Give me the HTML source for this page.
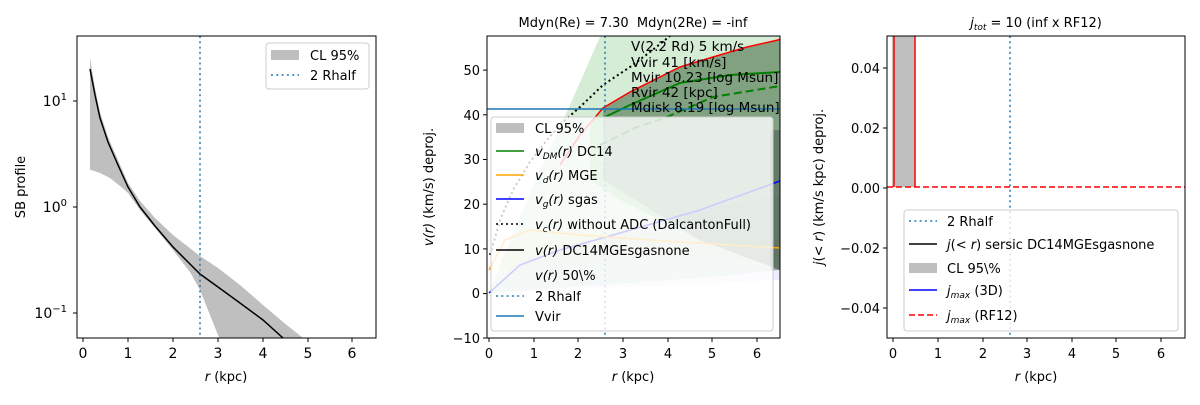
<!DOCTYPE html>
<html><head><meta charset="utf-8"><style>
body{margin:0;background:#fff;}
svg{font-family:"DejaVu Sans","Liberation Sans",sans-serif;}
</style></head><body>
<svg width="1200" height="400" viewBox="0 0 1200 400" xmlns="http://www.w3.org/2000/svg">
<rect width="1200" height="400" fill="#fff"/>
<defs><clipPath id="c1"><rect x="77" y="36" width="299" height="302"/></clipPath>
<clipPath id="c2"><rect x="487" y="36" width="293" height="302"/></clipPath>
<clipPath id="c3"><rect x="887" y="36" width="298" height="302"/></clipPath></defs>
<!-- PANEL 1 -->
<g clip-path="url(#c1)">
<path d="M90,58 L95,88 L100,112 L108,137 L118,160 L128,183 L140,201 L155,218 L173,235 L200,256 L218,268 L240,285 L263,305 L283,322 L303,338 L310,345 L222,345 L210,315 L200,290 L190,272 L173,250 L155,228 L140,210 L128,193 L120,186 L110,178 L100,173 L91,170 L90,170 Z" fill="#bfbfbf"/>
<path d="M90,69 L95,95 L100,118 L108,142 L118,165 L128,187 L140,207 L155,226 L173,247 L190,264 L200,274 L218,287 L240,303 L263,320 L283,338 L290,343" fill="none" stroke="#000" stroke-width="1.5"/>
</g>
<line x1="200" y1="36" x2="200" y2="338" stroke="#1f77b4" stroke-width="1.5" stroke-dasharray="2,3.3"/>
<rect x="77" y="36" width="299" height="302" fill="none" stroke="#000" stroke-width="1"/>
<g stroke="#000" stroke-width="1">
<line x1="83" y1="338" x2="83" y2="342"/><line x1="128" y1="338" x2="128" y2="342"/><line x1="173" y1="338" x2="173" y2="342"/><line x1="218" y1="338" x2="218" y2="342"/><line x1="263" y1="338" x2="263" y2="342"/><line x1="308" y1="338" x2="308" y2="342"/><line x1="352" y1="338" x2="352" y2="342"/>
<line x1="73" y1="101" x2="77" y2="101"/><line x1="73" y1="207" x2="77" y2="207"/><line x1="73" y1="313" x2="77" y2="313"/>
</g>
<g font-size="14" text-anchor="middle" fill="#000">
<text x="83" y="358">0</text><text x="128" y="358">1</text><text x="173" y="358">2</text><text x="218" y="358">3</text><text x="263" y="358">4</text><text x="308" y="358">5</text><text x="352" y="358">6</text>
<text x="226" y="381" font-size="13"><tspan font-style="italic">r</tspan> (kpc)</text>
</g>
<g font-size="14" text-anchor="end">
<text x="67" y="106">10<tspan font-size="10" dy="-6">1</tspan></text>
<text x="67" y="212">10<tspan font-size="10" dy="-6">0</tspan></text>
<text x="67" y="318">10<tspan font-size="10" dy="-6">−1</tspan></text>
</g>
<text transform="translate(25,187) rotate(-90)" font-size="13" text-anchor="middle">SB profile</text>
<rect x="266" y="43" width="103" height="46" rx="3" fill="#fff" fill-opacity="0.8" stroke="#ccc"/>
<rect x="271" y="50" width="28" height="10" fill="#bfbfbf"/>
<text x="310" y="60" font-size="13">CL 95%</text>
<line x1="271" y1="75" x2="299" y2="75" stroke="#1f77b4" stroke-width="1.5" stroke-dasharray="2,3.3"/>
<text x="310" y="80" font-size="13">2 Rhalf</text>

<!-- PANEL 2 -->
<text x="633" y="27" font-size="13" text-anchor="middle" xml:space="preserve">Mdyn(Re) = 7.30  Mdyn(2Re) = -inf</text>
<g clip-path="url(#c2)">
<path d="M489,293 L510,240 L540,170 L570,105 L603,30 L780,30 L780,270 L700,278 L600,285 L489,293 Z" fill="#2ca02c" fill-opacity="0.2"/>
<path d="M489,293 L520,260 L560,248 L620,233 L700,210 L780,195 L780,280 L700,284 L600,288 L489,293 Z" fill="#0000ff" fill-opacity="0.07"/>
<path d="M489,270 L520,235 L580,230 L650,232 L780,235 L780,262 L700,260 L600,262 L520,270 Z" fill="#ffa500" fill-opacity="0.08"/>
<path d="M590,125 L603,108 L630,92 L680,67 L713,57 L747,47 L780,40 L780,270 L700,240 L620,200 L590,180 Z" fill="#2ca02c" fill-opacity="0.3"/>
<path d="M603,108 L630,92 L680,67 L713,57 L747,47 L780,40 L780,270 L700,240 L603,180 Z" fill="#444" fill-opacity="0.35"/>
<rect x="770" y="130" width="10" height="140" fill="#223" fill-opacity="0.3"/>
<path d="M560,165 L580,135 L603,108 L630,92 L680,67 L713,57 L747,47 L778,40 L780,39" fill="none" stroke="#ff0000" stroke-width="1.5"/>
<path d="M605,117 L630,105 L680,83 L730,75 L780,72" fill="none" stroke="#008000" stroke-width="2"/>
<path d="M600,145 L637,127 L667,117 L713,97 L780,86" fill="none" stroke="#008000" stroke-width="2" stroke-dasharray="8,4"/>
<path d="M490,255 L500,220 L513,190 L530,162 L547,140 L563,122 L580,107 L603,85 L630,67 L650,52 L670,36" fill="none" stroke="#000" stroke-width="2" stroke-dasharray="2,3"/>
<path d="M489,293 L520,265 L560,250 L620,233 L700,210 L780,181" fill="none" stroke="#0000ff" stroke-width="1.5"/>
<path d="M489,270 L505,240 L530,230 L580,235 L650,240 L780,248" fill="none" stroke="#ffa500" stroke-width="1.5"/>
<line x1="487" y1="109" x2="780" y2="109" stroke="#1f77b4" stroke-width="1.5"/>
</g>
<line x1="605" y1="36" x2="605" y2="338" stroke="#1f77b4" stroke-width="1.5" stroke-dasharray="2,3.3"/>
<g font-size="13.5" fill="#000">
<text x="631" y="51">V(2.2 Rd) 5 km/s</text>
<text x="631" y="67">Vvir 41 [km/s]</text>
<text x="631" y="82">Mvir 10.23 [log Msun]</text>
<text x="631" y="97">Rvir 42 [kpc]</text>
<text x="631" y="112">Mdisk 8.19 [log Msun]</text>
</g>
<rect x="491" y="117" width="282" height="214" rx="3" fill="#fff" fill-opacity="0.8" stroke="#ccc"/>
<g font-size="13" fill="#000">
<rect x="496" y="123" width="28" height="10" fill="#bfbfbf"/><text x="535" y="133">CL 95%</text>
<line x1="496" y1="151" x2="524" y2="151" stroke="#008000" stroke-width="1.5"/><text x="535" y="156"><tspan font-style="italic">v<tspan font-size="9" dy="3">DM</tspan><tspan dy="-3">(r)</tspan></tspan> DC14</text>
<line x1="496" y1="175" x2="524" y2="175" stroke="#ffa500" stroke-width="1.5"/><text x="535" y="180"><tspan font-style="italic">v<tspan font-size="9" dy="3">d</tspan><tspan dy="-3">(r)</tspan></tspan> MGE</text>
<line x1="496" y1="199" x2="524" y2="199" stroke="#0000ff" stroke-width="1.5"/><text x="535" y="204"><tspan font-style="italic">v<tspan font-size="9" dy="3">g</tspan><tspan dy="-3">(r)</tspan></tspan> sgas</text>
<line x1="496" y1="224" x2="524" y2="224" stroke="#000" stroke-width="1.5" stroke-dasharray="2,3"/><text x="535" y="229"><tspan font-style="italic">v<tspan font-size="9" dy="3">c</tspan><tspan dy="-3">(r)</tspan></tspan> without ADC (DalcantonFull)</text>
<line x1="496" y1="250" x2="524" y2="250" stroke="#000" stroke-width="1.5"/><text x="535" y="255"><tspan font-style="italic">v(r)</tspan> DC14MGEsgasnone</text>
<text x="535" y="280"><tspan font-style="italic">v(r)</tspan> 50\%</text>
<line x1="496" y1="296" x2="524" y2="296" stroke="#1f77b4" stroke-width="1.5" stroke-dasharray="2,3.3"/><text x="535" y="301">2 Rhalf</text>
<line x1="496" y1="316" x2="524" y2="316" stroke="#1f77b4" stroke-width="1.5"/><text x="535" y="321">Vvir</text>
</g>
<rect x="487" y="36" width="293" height="302" fill="none" stroke="#000"/>
<g stroke="#000">
<line x1="489" y1="338" x2="489" y2="342"/><line x1="534" y1="338" x2="534" y2="342"/><line x1="578" y1="338" x2="578" y2="342"/><line x1="623" y1="338" x2="623" y2="342"/><line x1="668" y1="338" x2="668" y2="342"/><line x1="712" y1="338" x2="712" y2="342"/><line x1="757" y1="338" x2="757" y2="342"/>
<line x1="483" y1="338" x2="487" y2="338"/><line x1="483" y1="293.6" x2="487" y2="293.6"/><line x1="483" y1="248.9" x2="487" y2="248.9"/><line x1="483" y1="204.2" x2="487" y2="204.2"/><line x1="483" y1="159.5" x2="487" y2="159.5"/><line x1="483" y1="114.8" x2="487" y2="114.8"/><line x1="483" y1="70.1" x2="487" y2="70.1"/>
</g>
<g font-size="13" text-anchor="middle">
<text x="489" y="358">0</text><text x="534" y="358">1</text><text x="578" y="358">2</text><text x="623" y="358">3</text><text x="668" y="358">4</text><text x="712" y="358">5</text><text x="757" y="358">6</text>
<text x="633" y="381"><tspan font-style="italic">r</tspan> (kpc)</text>
</g>
<g font-size="13" text-anchor="end">
<text x="480" y="343">−10</text><text x="480" y="298">0</text><text x="480" y="254">10</text><text x="480" y="209">20</text><text x="480" y="164">30</text><text x="480" y="120">40</text><text x="480" y="75">50</text>
</g>
<text transform="translate(433,187) rotate(-90)" font-size="13" text-anchor="middle"><tspan font-style="italic">v(r)</tspan> (km/s) deproj.</text>

<!-- PANEL 3 -->
<text x="1036" y="27" font-size="13" text-anchor="middle"><tspan font-style="italic">j<tspan font-size="9" dy="3">tot</tspan></tspan><tspan dy="-3"> = 10 (inf x RF12)</tspan></text>
<g clip-path="url(#c3)">
<rect x="892" y="30" width="23" height="157" fill="#bfbfbf"/>
<line x1="894" y1="30" x2="894" y2="187" stroke="#ff0000" stroke-width="1.5"/>
<line x1="915" y1="30" x2="915" y2="187" stroke="#ff0000" stroke-width="1.5"/>
<line x1="887" y1="187" x2="1185" y2="187" stroke="#ff0000" stroke-width="1.5" stroke-dasharray="6,3"/>
</g>
<line x1="1010" y1="36" x2="1010" y2="338" stroke="#1f77b4" stroke-width="1.5" stroke-dasharray="2,3.3"/>
<rect x="904" y="210" width="274" height="121" rx="3" fill="#fff" fill-opacity="0.8" stroke="#ccc"/>
<g font-size="13">
<line x1="909" y1="221" x2="937" y2="221" stroke="#1f77b4" stroke-width="1.5" stroke-dasharray="2,3.3"/><text x="947" y="226">2 Rhalf</text>
<line x1="909" y1="244" x2="937" y2="244" stroke="#000" stroke-width="1.5"/><text x="947" y="249"><tspan font-style="italic">j</tspan>(<tspan font-style="italic">&lt; r</tspan>) sersic DC14MGEsgasnone</text>
<rect x="909" y="263" width="28" height="10" fill="#bfbfbf"/><text x="947" y="273">CL 95\%</text>
<line x1="909" y1="290" x2="937" y2="290" stroke="#0000ff" stroke-width="1.5"/><text x="947" y="295"><tspan font-style="italic">j<tspan font-size="9" dy="3">max</tspan></tspan><tspan dy="-3"> (3D)</tspan></text>
<line x1="909" y1="315" x2="937" y2="315" stroke="#ff0000" stroke-width="1.5" stroke-dasharray="6,3"/><text x="947" y="320"><tspan font-style="italic">j<tspan font-size="9" dy="3">max</tspan></tspan><tspan dy="-3"> (RF12)</tspan></text>
</g>
<rect x="887" y="36" width="298" height="302" fill="none" stroke="#000"/>
<g stroke="#000">
<line x1="893" y1="338" x2="893" y2="342"/><line x1="938" y1="338" x2="938" y2="342"/><line x1="983" y1="338" x2="983" y2="342"/><line x1="1027" y1="338" x2="1027" y2="342"/><line x1="1072" y1="338" x2="1072" y2="342"/><line x1="1116" y1="338" x2="1116" y2="342"/><line x1="1161" y1="338" x2="1161" y2="342"/>
<line x1="883" y1="68" x2="887" y2="68"/><line x1="883" y1="128" x2="887" y2="128"/><line x1="883" y1="188" x2="887" y2="188"/><line x1="883" y1="248" x2="887" y2="248"/><line x1="883" y1="308" x2="887" y2="308"/>
</g>
<g font-size="13" text-anchor="middle">
<text x="893" y="358">0</text><text x="938" y="358">1</text><text x="983" y="358">2</text><text x="1027" y="358">3</text><text x="1072" y="358">4</text><text x="1116" y="358">5</text><text x="1161" y="358">6</text>
<text x="1036" y="381"><tspan font-style="italic">r</tspan> (kpc)</text>
</g>
<g font-size="13" text-anchor="end">
<text x="880" y="73">0.04</text><text x="880" y="133">0.02</text><text x="880" y="193">0.00</text><text x="880" y="253">−0.02</text><text x="880" y="313">−0.04</text>
</g>
<text transform="translate(823,187) rotate(-90)" font-size="13" text-anchor="middle"><tspan font-style="italic">j</tspan>(<tspan font-style="italic">&lt; r</tspan>) (km/s kpc) deproj.</text>
</svg>
</body></html>
